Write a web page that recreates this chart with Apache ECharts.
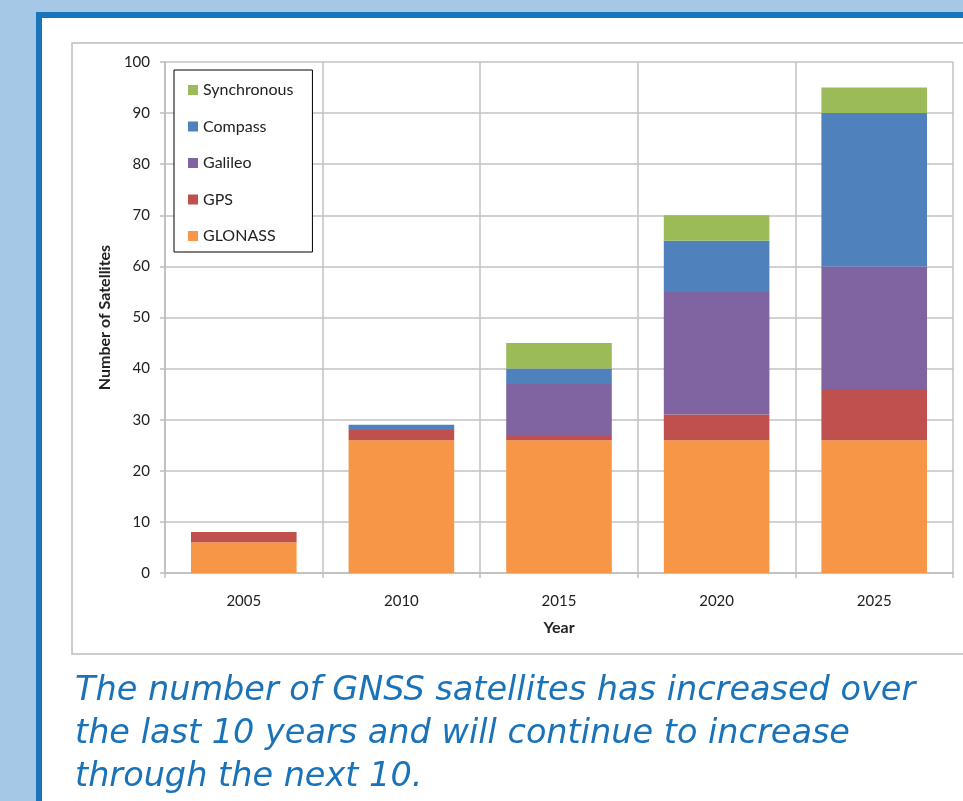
<!DOCTYPE html>
<html>
<head>
<meta charset="utf-8">
<script src="https://cdn.jsdelivr.net/npm/echarts@6/dist/echarts.min.js"></script>
<style>
html,body{margin:0;padding:0;background:#a4c8e5;}
#chart{width:963px;height:801px;}
</style>
</head>
<body>
<div id="chart"></div>
<script>
const years = ['2005','2010','2015','2020','2025'];
const glonass = [6, 26, 26, 26, 26];
const gps = [2, 2, 1, 5, 10];
const galileo = [0, 0, 10, 24, 24];
const compass = [0, 1, 3, 10, 30];
const synchronous = [0, 0, 5, 5, 5];
const yTicks = {min: 0, max: 100, interval: 10};
const captionLines = [
  'The number of GNSS satellites has increased over',
  'the last 10 years and will continue to increase',
  'through the next 10.'
];

const colors = {
  GLONASS: '#f79646', GPS: '#c0504d', Galileo: '#8064a2', Compass: '#4f81bd', Synchronous: '#9bbb59'
};
const font = 'Lato, "Open Sans", sans-serif';

const chart = echarts.init(document.getElementById('chart'));
function mk(name, data) {
  return {
    name: name, type: 'bar', stack: 'total', data: data,
    barCategoryGap: '33%',
    itemStyle: {color: colors[name]}
  };
}
const option = {
  animation: false,
  backgroundColor: '#a4c8e5',
  graphic: [
    {type: 'rect', z: -10, shape: {x: 36, y: 12, width: 940, height: 800}, style: {fill: '#1a74bb'}},
    {type: 'rect', z: -9, shape: {x: 42, y: 18, width: 930, height: 800}, style: {fill: '#ffffff'}},
    {type: 'rect', z: -8, shape: {x: 72, y: 43, width: 900, height: 611}, style: {fill: '#ffffff', stroke: '#bdbdbd', lineWidth: 1.5}},
    {type: 'text', z: 10, left: 75, top: 670, style: {
      text: captionLines.join('\n'), fill: '#1a73b9',
      font: 'italic 400 33.5px "DejaVu Sans", sans-serif', lineHeight: 43
    }}
  ],
  legend: {
    orient: 'vertical', left: 174, top: 70,
    data: ['Synchronous', 'Compass', 'Galileo', 'GPS', 'GLONASS'],
    itemWidth: 10, itemHeight: 10, itemGap: 20.5,
    icon: 'rect',
    padding: [12, 19, 8, 14],
    borderColor: '#000', borderWidth: 1, backgroundColor: '#fff',
    textStyle: {fontFamily: font, fontSize: 16, color: '#222'}
  },
  grid: {left: 165, right: 10, top: 62, bottom: 228},
  xAxis: {
    type: 'category', data: years,
    name: 'Year', nameLocation: 'middle', nameGap: 47,
    nameTextStyle: {fontFamily: font, fontSize: 16, fontWeight: 'bold', color: '#222'},
    axisLine: {lineStyle: {color: '#bdbdbd', width: 1.5}},
    axisTick: {show: true, length: 5, lineStyle: {color: '#bdbdbd', width: 1.5}},
    axisLabel: {fontFamily: font, fontSize: 15, color: '#222', margin: 21},
    splitLine: {show: true, lineStyle: {color: '#c2c2c2', width: 1.5}}
  },
  yAxis: {
    type: 'value', min: yTicks.min, max: yTicks.max, interval: yTicks.interval,
    name: 'Number of Satellites', nameLocation: 'middle', nameGap: 52,
    nameTextStyle: {fontFamily: font, fontSize: 16, fontWeight: 'bold', color: '#222'},
    axisLine: {show: true, lineStyle: {color: '#bdbdbd', width: 1.5}},
    axisTick: {show: true, length: 5, lineStyle: {color: '#bdbdbd', width: 1.5}},
    axisLabel: {fontFamily: font, fontSize: 15, color: '#222', margin: 15},
    splitLine: {show: true, lineStyle: {color: '#c2c2c2', width: 1.5}}
  },
  series: [
    mk('GLONASS', glonass),
    mk('GPS', gps),
    mk('Galileo', galileo),
    mk('Compass', compass),
    mk('Synchronous', synchronous)
  ]
};
chart.setOption(option);
</script>
</body>
</html>
